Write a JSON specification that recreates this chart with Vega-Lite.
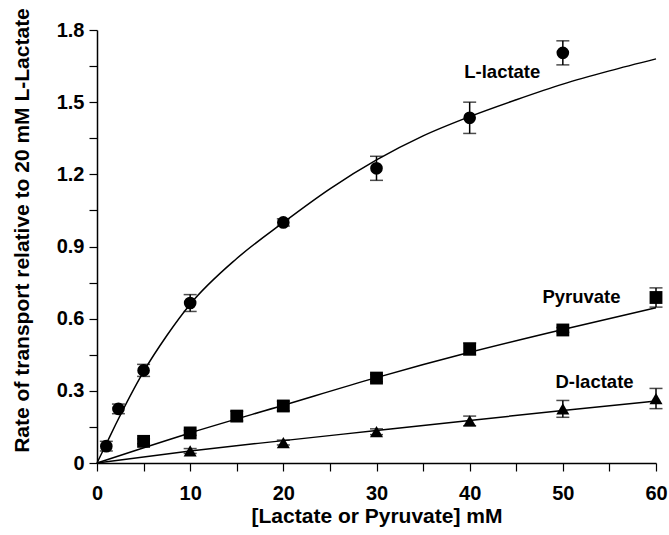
{
  "$schema": "https://vega.github.io/schema/vega-lite/v6.json",
  "autosize": {"type": "none"},
  "padding": {"left": 97, "top": 30, "right": 13, "bottom": 72},
  "width": 559,
  "height": 433,
  "background": "white",
  "config": {
    "view": {"stroke": null},
    "font": "Liberation Sans",
    "axis": {
      "grid": false,
      "domainColor": "black",
      "domainWidth": 1.5,
      "tickColor": "black",
      "tickWidth": 1.2,
      "tickSize": 8,
      "labelColor": "black",
      "titleColor": "black",
      "labelFont": "Liberation Sans",
      "titleFont": "Liberation Sans",
      "labelFontWeight": "bold",
      "titleFontWeight": "bold",
      "labelFontSize": 20,
      "titleFontSize": 21
    }
  },
  "datasets": {
    "curves": [
      {"series": "L-lactate", "conc": 0, "rate": 0},
      {"series": "L-lactate", "conc": 1, "rate": 0.08},
      {"series": "L-lactate", "conc": 2, "rate": 0.16},
      {"series": "L-lactate", "conc": 5, "rate": 0.38},
      {"series": "L-lactate", "conc": 7.5, "rate": 0.53},
      {"series": "L-lactate", "conc": 10, "rate": 0.66},
      {"series": "L-lactate", "conc": 15, "rate": 0.85},
      {"series": "L-lactate", "conc": 20, "rate": 1.0},
      {"series": "L-lactate", "conc": 25, "rate": 1.14},
      {"series": "L-lactate", "conc": 30, "rate": 1.26},
      {"series": "L-lactate", "conc": 35, "rate": 1.36},
      {"series": "L-lactate", "conc": 40, "rate": 1.44},
      {"series": "L-lactate", "conc": 45, "rate": 1.51},
      {"series": "L-lactate", "conc": 50, "rate": 1.575},
      {"series": "L-lactate", "conc": 55, "rate": 1.63},
      {"series": "L-lactate", "conc": 60, "rate": 1.68},
      {"series": "Pyruvate", "conc": 0, "rate": 0},
      {"series": "Pyruvate", "conc": 10, "rate": 0.125},
      {"series": "Pyruvate", "conc": 20, "rate": 0.24},
      {"series": "Pyruvate", "conc": 30, "rate": 0.355},
      {"series": "Pyruvate", "conc": 40, "rate": 0.46},
      {"series": "Pyruvate", "conc": 50, "rate": 0.555},
      {"series": "Pyruvate", "conc": 60, "rate": 0.645},
      {"series": "D-lactate", "conc": 0, "rate": 0},
      {"series": "D-lactate", "conc": 10, "rate": 0.05},
      {"series": "D-lactate", "conc": 20, "rate": 0.093},
      {"series": "D-lactate", "conc": 30, "rate": 0.135},
      {"series": "D-lactate", "conc": 40, "rate": 0.177},
      {"series": "D-lactate", "conc": 50, "rate": 0.218},
      {"series": "D-lactate", "conc": 60, "rate": 0.258}
    ],
    "points": [
      {"series": "L-lactate", "conc": 1, "rate": 0.07, "err": 0.02},
      {"series": "L-lactate", "conc": 2.3, "rate": 0.225, "err": 0.02},
      {"series": "L-lactate", "conc": 5, "rate": 0.385, "err": 0.025},
      {"series": "L-lactate", "conc": 10, "rate": 0.665, "err": 0.035},
      {"series": "L-lactate", "conc": 20, "rate": 1.0, "err": 0.015},
      {"series": "L-lactate", "conc": 30, "rate": 1.225, "err": 0.05},
      {"series": "L-lactate", "conc": 40, "rate": 1.435, "err": 0.065},
      {"series": "L-lactate", "conc": 50, "rate": 1.705, "err": 0.05},
      {"series": "Pyruvate", "conc": 5, "rate": 0.09, "err": 0.01},
      {"series": "Pyruvate", "conc": 10, "rate": 0.125, "err": 0.01},
      {"series": "Pyruvate", "conc": 15, "rate": 0.195, "err": 0.02},
      {"series": "Pyruvate", "conc": 20, "rate": 0.237, "err": 0.02},
      {"series": "Pyruvate", "conc": 30, "rate": 0.353, "err": 0.015},
      {"series": "Pyruvate", "conc": 40, "rate": 0.474, "err": 0.025},
      {"series": "Pyruvate", "conc": 50, "rate": 0.553, "err": 0.01},
      {"series": "Pyruvate", "conc": 60, "rate": 0.688, "err": 0.04},
      {"series": "D-lactate", "conc": 10, "rate": 0.05, "err": 0.01},
      {"series": "D-lactate", "conc": 20, "rate": 0.085, "err": 0.01},
      {"series": "D-lactate", "conc": 30, "rate": 0.13, "err": 0.012},
      {"series": "D-lactate", "conc": 40, "rate": 0.175, "err": 0.02},
      {"series": "D-lactate", "conc": 50, "rate": 0.225, "err": 0.035},
      {"series": "D-lactate", "conc": 60, "rate": 0.268, "err": 0.042}
    ],
    "labels": [
      {"label": "L-lactate", "conc": 43.5, "rate": 1.625},
      {"label": "Pyruvate", "conc": 52.0, "rate": 0.69},
      {"label": "D-lactate", "conc": 53.4, "rate": 0.337}
    ]
  },
  "encoding": {
    "x": {
      "field": "conc", "type": "quantitative",
      "scale": {"domain": [0, 60], "nice": false, "zero": true},
      "axis": {
        "title": "[Lactate or Pyruvate] mM",
        "values": [0, 5, 10, 15, 20, 25, 30, 35, 40, 45, 50, 55, 60],
        "labelExpr": "datum.value % 10 == 0 ? datum.label : ''",
        "labelPadding": 12,
        "titlePadding": 2,
        "labelFlush": false
      }
    },
    "y": {
      "field": "rate", "type": "quantitative",
      "scale": {"domain": [0, 1.8], "nice": false},
      "axis": {
        "title": "Rate of transport relative to 20 mM L-Lactate",
        "values": [0, 0.15, 0.3, 0.45, 0.6, 0.75, 0.9, 1.05, 1.2, 1.35, 1.5, 1.65, 1.8],
        "format": ".1~f",
        "labelExpr": "round(datum.value * 100) % 30 == 0 ? datum.label : ''",
        "labelPadding": 5,
        "titlePadding": 24,
        "titleY": 200,
        "labelFlush": false
      }
    }
  },
  "layer": [
    {
      "data": {"name": "curves"},
      "mark": {"type": "line", "color": "black", "strokeWidth": 1.5, "interpolate": "monotone"},
      "encoding": {"detail": {"field": "series"}}
    },
    {
      "data": {"name": "points"},
      "mark": {"type": "errorbar", "color": "black", "thickness": 1.5, "ticks": {"size": 13, "thickness": 1.5}},
      "encoding": {
        "yError": {"field": "err"},
        "detail": {"field": "series"}
      }
    },
    {
      "data": {"name": "points"},
      "mark": {"type": "point", "filled": true, "opacity": 1, "color": "black"},
      "encoding": {
        "shape": {
          "field": "series", "type": "nominal",
          "scale": {"domain": ["L-lactate", "Pyruvate", "D-lactate"], "range": ["circle", "square", "triangle-up"]},
          "legend": null
        },
        "size": {
          "field": "series", "type": "nominal",
          "scale": {"domain": ["L-lactate", "Pyruvate", "D-lactate"], "range": [160, 170, 120]},
          "legend": null
        }
      }
    },
    {
      "data": {"name": "labels"},
      "mark": {"type": "text", "font": "Liberation Sans", "fontWeight": "bold", "fontSize": 18.5, "color": "black", "align": "center", "baseline": "middle"},
      "encoding": {"text": {"field": "label"}}
    }
  ]
}
